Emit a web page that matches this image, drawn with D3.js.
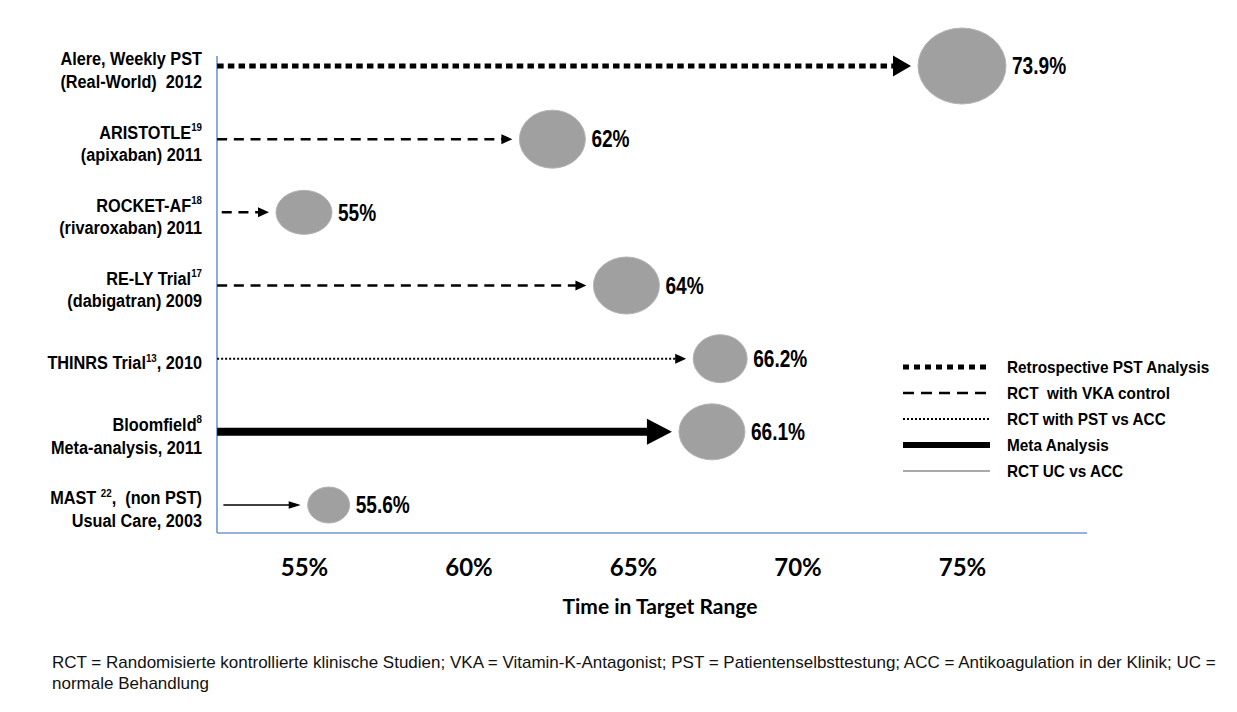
<!DOCTYPE html>
<html>
<head>
<meta charset="utf-8">
<script src="https://cdn.jsdelivr.net/npm/d3@7"></script>
<style>
  html, body { margin: 0; padding: 0; background: #fff; }
  svg { display: block; }
  text { white-space: pre; }
</style>
</head>
<body>
<svg id="chart" width="1237" height="712"></svg>
<script>
// ---------------- DATA ----------------
// Study labels ("^" toggles superscript segments)
const studyLabels = [
  ["Alere, Weekly PST", "(Real-World)  2012"],
  ["ARISTOTLE^19", "(apixaban) 2011"],
  ["ROCKET-AF^18", "(rivaroxaban) 2011"],
  ["RE-LY Trial^17", "(dabigatran) 2009"],
  ["THINRS Trial^13^, 2010"],
  ["Bloomfield^8", "Meta-analysis, 2011"],
  ["MAST ^22^,  (non PST)", "Usual Care, 2003"]
];
// Reported time in therapeutic range (printed next to bubbles)
const ttrValues = [73.9, 62, 55, 64, 66.2, 66.1, 55.6];
// Where each bubble sits on the x axis
const bubbleAt = [75.0, 62.55, 55.0, 64.8, 67.65, 67.4, 55.75];
// Where each arrow starts on the x axis
const arrowFrom = [52.36, 52.36, 52.5, 52.36, 52.36, 52.36, 52.55];
// Study type of each row
const studyType = ["retro", "vka", "vka", "vka", "pst", "meta", "uc"];
// Axis tick values and labels
const tickValues = [55, 60, 65, 70, 75];
const tickLabels = ["55%", "60%", "65%", "70%", "75%"];
const xTitle = "Time in Target Range";
// Legend
const legendTypes = ["retro", "vka", "pst", "meta", "uc"];
const legendLabels = ["Retrospective PST Analysis", "RCT  with VKA control", "RCT with PST vs ACC", "Meta Analysis", "RCT UC vs ACC"];
const footnoteLines = [
  "RCT = Randomisierte kontrollierte klinische Studien; VKA = Vitamin-K-Antagonist; PST = Patientenselbsttestung; ACC = Antikoagulation in der Klinik; UC =",
  "normale Behandlung"
];

// ---------------- STYLE ----------------
const bubbleRx = [44, 33, 28, 33, 27, 33, 21];
const bubbleRy = [38, 29, 22, 28.5, 24, 28, 18];
const lineStyle = {
  retro: { w: 5,   dash: "6.5,4.2", color: "#000", headL: 18, headH: 10.5 },
  vka:   { w: 2.5, dash: "10,6.7",  color: "#000", headL: 11, headH: 5 },
  pst:   { w: 2,   dash: "2,2",     color: "#000", headL: 11, headH: 5 },
  meta:  { w: 8,   dash: null,      color: "#000", headL: 25, headH: 13 },
  uc:    { w: 1.5, dash: null,      color: "#000", headL: 12, headH: 3.8 }
};
const legendStyle = {
  retro: { w: 5,   dash: "6,5",  color: "#000" },
  vka:   { w: 2.5, dash: "11,7", color: "#000" },
  pst:   { w: 2,   dash: "2,2",  color: "#000" },
  meta:  { w: 6,   dash: null,   color: "#000" },
  uc:    { w: 1,   dash: null,   color: "#555" }
};

const condFont = "'Liberation Sans', Arial, sans-serif";
const fsRow = 18.5, sxRow = 0.88;
const fsPct = 23, sxPct = 0.83;
const fsLeg = 16.5, sxLeg = 0.93;

// ---------------- LAYOUT ----------------
const svg = d3.select("#chart");
const frame = { left: 217, right: 1087, top: 56, bottom: 533 };
const x = d3.scaleLinear().domain([55, 75]).range([304, 962]);
const y = d3.scalePoint().domain(d3.range(studyLabels.length)).range([66, 505]);
const axisColor = "#6f98d2";

// frame lines
svg.append("line").attr("x1", frame.left).attr("x2", frame.left)
  .attr("y1", frame.top).attr("y2", frame.bottom)
  .attr("stroke", axisColor).attr("stroke-width", 1.6);
svg.append("line").attr("x1", frame.left).attr("x2", frame.right)
  .attr("y1", frame.bottom).attr("y2", frame.bottom)
  .attr("stroke", axisColor).attr("stroke-width", 1.6);

// x axis labels via d3 axis
const xAxis = d3.axisBottom(x).tickValues(tickValues)
  .tickFormat((d, i) => tickLabels[i]).tickSize(0).tickPadding(0);
const gx = svg.append("g").attr("transform", `translate(0, 576)`).call(xAxis);
gx.select(".domain").remove();
gx.selectAll("text").attr("dy", null)
  .attr("font-family", "Lato, 'Open Sans', sans-serif")
  .attr("font-weight", "bold").attr("font-size", 24).attr("fill", "#000");

svg.append("text").attr("x", 660).attr("y", 614)
  .attr("text-anchor", "middle")
  .attr("font-family", "Lato, 'Open Sans', sans-serif")
  .attr("font-weight", "bold").attr("font-size", 21).attr("fill", "#000")
  .text(xTitle);

// row labels
function addRich(textSel, str, fs) {
  const parts = str.split("^");
  let shifted = false;
  parts.forEach((p, k) => {
    if (p === "") { return; }
    const sup = k % 2 === 1;
    const t = textSel.append("tspan").text(p);
    if (sup) {
      t.attr("font-size", fs * 0.6).attr("dy", -fs * 0.42);
      shifted = true;
    } else {
      t.attr("font-size", fs);
      if (shifted) { t.attr("dy", fs * 0.42); shifted = false; }
    }
  });
}
studyLabels.forEach((lines, i) => {
  const cy = y(i) + 4;
  const lh = 22.5;
  lines.forEach((ln, j) => {
    const base = cy + (j - (lines.length - 1) / 2) * lh + fsRow * 0.36;
    const t = svg.append("text")
      .attr("transform", `translate(202,${base}) scale(${sxRow},1)`)
      .attr("text-anchor", "end").attr("font-family", condFont)
      .attr("font-weight", "bold").attr("fill", "#000");
    addRich(t, ln, fsRow);
  });
});

// arrows
studyType.forEach((tp, i) => {
  const st = lineStyle[tp];
  const tip = x(bubbleAt[i]) - bubbleRx[i] - 7;
  const base = tip - st.headL;
  const yy = y(i);
  const ln = svg.append("line")
    .attr("x1", x(arrowFrom[i])).attr("x2", base + 0.5)
    .attr("y1", yy).attr("y2", yy)
    .attr("stroke", st.color).attr("stroke-width", st.w);
  if (st.dash) ln.attr("stroke-dasharray", st.dash);
  svg.append("path")
    .attr("d", `M${base},${yy - st.headH}L${tip},${yy}L${base},${yy + st.headH}Z`)
    .attr("fill", st.color);
});

// bubbles
svg.selectAll("ellipse.bubble").data(bubbleAt).join("ellipse")
  .attr("class", "bubble")
  .attr("cx", d => x(d)).attr("cy", (d, i) => y(i))
  .attr("rx", (d, i) => bubbleRx[i]).attr("ry", (d, i) => bubbleRy[i])
  .attr("fill", "#a0a0a0").attr("stroke", "#b4b4b4").attr("stroke-width", 1);

// value labels
svg.selectAll("text.val").data(ttrValues).join("text")
  .attr("class", "val")
  .attr("transform", (d, i) => `translate(${x(bubbleAt[i]) + bubbleRx[i] + 6},${y(i) + fsPct * 0.36}) scale(${sxPct},1)`)
  .attr("font-family", condFont).attr("font-weight", "bold")
  .attr("font-size", fsPct).attr("fill", "#000")
  .text(d => d + "%");

// legend
legendTypes.forEach((tp, k) => {
  const st = legendStyle[tp];
  const yy = 367 + k * 26;
  const ln = svg.append("line").attr("x1", 903).attr("x2", 990)
    .attr("y1", yy).attr("y2", yy)
    .attr("stroke", st.color).attr("stroke-width", st.w);
  if (st.dash) ln.attr("stroke-dasharray", st.dash);
  svg.append("text")
    .attr("transform", `translate(1007,${yy + fsLeg * 0.36}) scale(${sxLeg},1)`)
    .attr("font-family", condFont).attr("font-weight", "bold")
    .attr("font-size", fsLeg).attr("fill", "#000")
    .text(legendLabels[k]);
});

// footnote
footnoteLines.forEach((ln, k) => {
  svg.append("text").attr("x", 52).attr("y", 668 + k * 21)
    .attr("font-family", "'Liberation Sans', Arial, sans-serif")
    .attr("font-size", 17).attr("fill", "#111")
    .text(ln);
});
</script>
</body>
</html>
